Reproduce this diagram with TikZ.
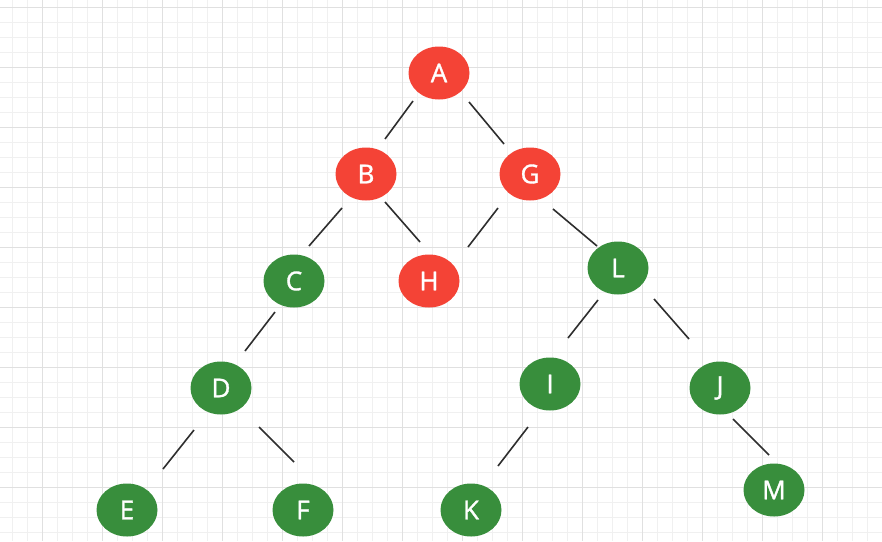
\documentclass[tikz,border=0pt]{standalone}
\usetikzlibrary{shapes.geometric}
\usepackage{fontspec}
\setmainfont{Open Sans}
\newfontfamily\nodefont[FakeBold=1.3]{Open Sans}
\definecolor{nred}{HTML}{F44336}
\definecolor{ngreen}{HTML}{388E3C}
\definecolor{gminor}{HTML}{F0F0F0}
\definecolor{gmajor}{HTML}{E0E0E0}
\definecolor{edgec}{HTML}{2E2E2E}
\tikzset{
  tnode/.style={ellipse, minimum width=61pt, minimum height=53pt, inner sep=0pt, text=white, font=\nodefont\fontsize{26}{26}\selectfont},
  rnode/.style={tnode, fill=nred},
  gnode/.style={tnode, fill=ngreen},
  link/.style={draw=edgec, line width=1.6pt},
  minorgrid/.style={draw=gminor, line width=1pt},
  majorgrid/.style={draw=gmajor, line width=1pt}
}
\begin{document}
\begin{tikzpicture}[x=1pt, y=-1pt]
\useasboundingbox (0,0) rectangle (882,541);
\fill[white] (0,0) rectangle (882,541);
% grid
\foreach \k in {0,...,57} {\draw[minorgrid] (12.5+15*\k,0) -- (12.5+15*\k,541);}
\foreach \k in {0,...,35} {\draw[minorgrid] (0,7+15*\k) -- (882,7+15*\k);}
\foreach \k in {0,...,14} {\draw[majorgrid] (42.5+60*\k,0) -- (42.5+60*\k,541);}
\foreach \k in {0,...,8} {\draw[majorgrid] (0,7+60*\k) -- (882,7+60*\k);}
% nodes
\node[rnode] (A) at (439,73) {A};
\node[rnode] (B) at (366,174) {B};
\node[rnode] (G) at (530,174) {G};
\node[gnode] (C) at (294,281) {C};
\node[rnode] (H) at (429,281) {H};
\node[gnode] (L) at (618,268) {L};
\node[gnode] (D) at (221,388) {D};
\node[gnode] (I) at (550,384) {I};
\node[gnode] (J) at (720,388) {J};
\node[gnode] (E) at (127,510) {E};
\node[gnode] (F) at (303,510) {F};
\node[gnode] (K) at (471,510) {K};
\node[gnode] (M) at (774,490) {M};
% edges
\draw[link] ([shift={(-26,28)}]A.center) -- ([shift={(19,-35)}]B.center);
\draw[link] ([shift={(30,29)}]A.center) -- ([shift={(-26,-30)}]G.center);
\draw[link] ([shift={(-24,34)}]B.center) -- ([shift={(15,-35)}]C.center);
\draw[link] ([shift={(19,28)}]B.center) -- ([shift={(-9,-39)}]H.center);
\draw[link] ([shift={(-32,34)}]G.center) -- ([shift={(39,-34)}]H.center);
\draw[link] ([shift={(23,35)}]G.center) -- ([shift={(-21,-22)}]L.center);
\draw[link] ([shift={(-19,31)}]C.center) -- ([shift={(24,-37)}]D.center);
\draw[link] ([shift={(-20,32)}]L.center) -- ([shift={(18,-46)}]I.center);
\draw[link] ([shift={(36,31)}]L.center) -- ([shift={(-31,-49)}]J.center);
\draw[link] ([shift={(-27,42)}]D.center) -- ([shift={(36,-41)}]E.center);
\draw[link] ([shift={(38,39)}]D.center) -- ([shift={(-9,-48)}]F.center);
\draw[link] ([shift={(-22,43)}]I.center) -- ([shift={(27,-44)}]K.center);
\draw[link] ([shift={(13,31)}]J.center) -- ([shift={(-5,-35)}]M.center);
\end{tikzpicture}
\end{document}
